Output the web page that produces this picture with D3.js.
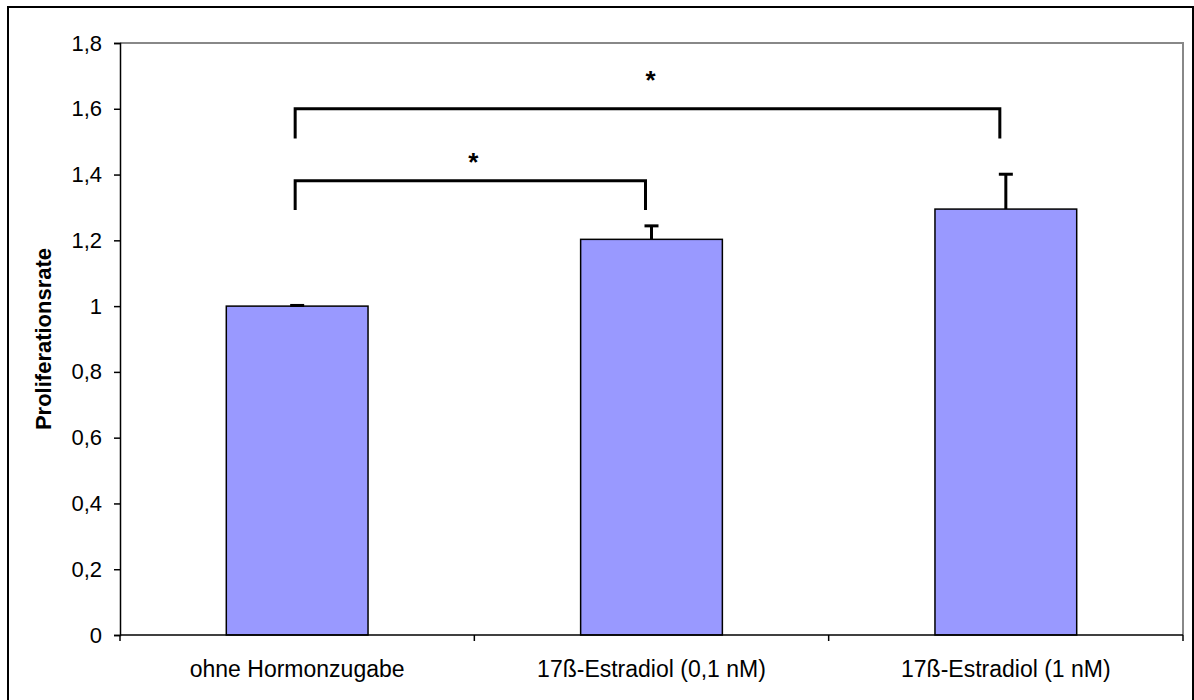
<!DOCTYPE html>
<html>
<head>
<meta charset="utf-8">
<script src="https://cdn.jsdelivr.net/npm/d3@7"></script>
<style>
  body { margin: 0; background: #fff; }
  svg { display: block; font-family: "Liberation Sans", Arial, sans-serif; }
</style>
</head>
<body>
<div id="chart"></div>
<script>

// categories and values
var categories = ['ohne Hormonzugabe', '17ß-Estradiol (0,1 nM)', '17ß-Estradiol (1 nM)'];
var values = [1.0, 1.203, 1.295];
var errors = [0.002, 0.041, 0.106];
var yTicks = [0, 0.2, 0.4, 0.6, 0.8, 1, 1.2, 1.4, 1.6, 1.8];

// significance brackets: from / to category, top level, foot level, star level
var bracketFrom = [0, 0];
var bracketTo = [1, 2];
var bracketTop = [1.381, 1.60];
var bracketFoot = [1.292, 1.51];
var starLevel = [1.45, 1.70];

var width = 1194, height = 700;
var margin = { top: 43, right: 11, bottom: 65, left: 120 };
var fontSize = 22;

var svg = d3.select('#chart').append('svg')
    .attr('width', width)
    .attr('height', height);

// outer frame
svg.append('rect')
    .attr('x', 8).attr('y', 7)
    .attr('width', 1185).attr('height', 700)
    .attr('fill', 'none')
    .attr('stroke', '#000')
    .attr('stroke-width', 2);

var x = d3.scaleBand()
    .domain(d3.range(categories.length))
    .range([margin.left, width - margin.right])
    .paddingInner(0.6)
    .paddingOuter(0.3);

var y = d3.scaleLinear()
    .domain([0, 1.8])
    .range([height - margin.bottom, margin.top]);

var fmt = function(d) { return String(d).replace('.', ','); };

// plot area frame (gray top / right)
svg.append('path')
    .attr('d', 'M' + margin.left + ',' + y(1.8) + 'H' + (width - margin.right) + 'V' + y(0))
    .attr('fill', 'none')
    .attr('stroke', '#888')
    .attr('stroke-width', 2);

// bars
svg.selectAll('rect.bar')
    .data(values)
  .enter().append('rect')
    .attr('class', 'bar')
    .attr('x', function(d, i) { return x(i); })
    .attr('y', function(d) { return y(d); })
    .attr('width', x.bandwidth())
    .attr('height', function(d) { return y(0) - y(d); })
    .attr('fill', '#9999ff')
    .attr('stroke', '#000')
    .attr('stroke-width', 1.5);

// error bars (upper only)
var err = svg.append('g').attr('stroke', '#000').attr('stroke-width', 3);
values.forEach(function(v, i) {
  var cx = x(i) + x.bandwidth() / 2;
  err.append('line')
      .attr('x1', cx).attr('x2', cx)
      .attr('y1', y(v)).attr('y2', y(v + errors[i]));
  err.append('line')
      .attr('x1', cx - 7).attr('x2', cx + 7)
      .attr('y1', y(v + errors[i])).attr('y2', y(v + errors[i]));
});

// y axis
var yAxis = svg.append('g')
    .attr('transform', 'translate(' + margin.left + ',0)')
    .call(d3.axisLeft(y).tickValues(yTicks).tickFormat(fmt).tickSize(6).tickPadding(12));
yAxis.select('.domain').attr('stroke-width', 1.5);
yAxis.selectAll('.tick line').attr('stroke-width', 1.5);
yAxis.selectAll('text').attr('font-size', fontSize).attr('fill', '#000')
    .attr('font-family', '"Liberation Sans", Arial, sans-serif');

// x axis: ticks at category boundaries
var xBase = svg.append('g')
    .attr('transform', 'translate(0,' + y(0) + ')');
xBase.append('line')
    .attr('x1', margin.left).attr('x2', width - margin.right)
    .attr('stroke', '#000').attr('stroke-width', 1.5);
var step = x.step();
xBase.selectAll('line.tick')
    .data(d3.range(categories.length + 1))
  .enter().append('line')
    .attr('class', 'tick')
    .attr('x1', function(d) { return margin.left + d * step; })
    .attr('x2', function(d) { return margin.left + d * step; })
    .attr('y1', 0).attr('y2', 6)
    .attr('stroke', '#000').attr('stroke-width', 1.5);
xBase.selectAll('text')
    .data(categories)
  .enter().append('text')
    .attr('x', function(d, i) { return x(i) + x.bandwidth() / 2; })
    .attr('y', 42)
    .attr('text-anchor', 'middle')
    .attr('font-size', 23)
    .text(function(d) { return d; });

// y axis title
svg.append('text')
    .attr('transform', 'translate(51,' + ((y(0) + y(1.8)) / 2) + ') rotate(-90)')
    .attr('text-anchor', 'middle')
    .attr('font-size', fontSize)
    .attr('font-weight', 'bold')
    .text('Proliferationsrate');

// significance brackets
var br = svg.append('g').attr('fill', 'none').attr('stroke', '#000').attr('stroke-width', 3);
bracketFrom.forEach(function(f, i) {
  var x1 = x(f) + x.bandwidth() / 2 - 2;
  var x2 = x(bracketTo[i]) + x.bandwidth() / 2 - 6;
  br.append('path')
      .attr('d', 'M' + x1 + ',' + y(bracketFoot[i]) + 'V' + y(bracketTop[i]) +
                 'H' + x2 + 'V' + y(bracketFoot[i]));
  svg.append('text')
      .attr('x', (x1 + x2) / 2 + 3)
      .attr('y', y(starLevel[i]) + 13)
      .attr('text-anchor', 'middle')
      .attr('font-size', 26)
      .attr('font-weight', 'bold')
      .text('*');
});

</script>
</body>
</html>
